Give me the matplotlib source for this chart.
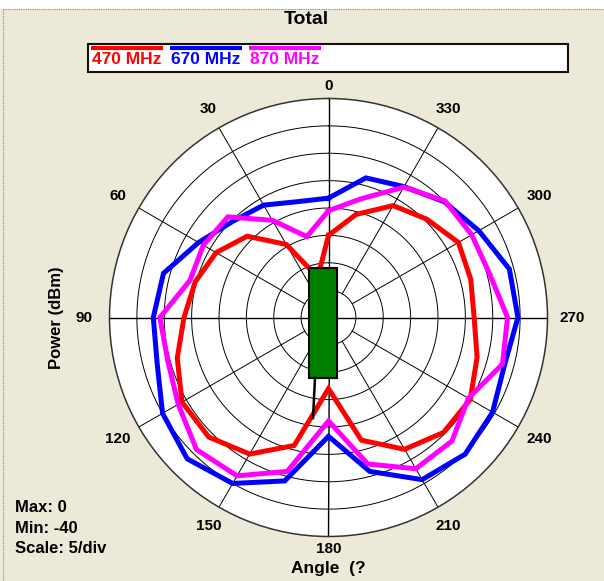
import numpy as np
import matplotlib
matplotlib.use("Agg")
import matplotlib.pyplot as plt
from matplotlib.patches import Rectangle
from matplotlib.lines import Line2D

plt.rcParams['font.family'] = ['Liberation Sans', 'DejaVu Sans']
plt.rcParams['font.weight'] = 'bold'

# measured pattern, every 15 deg (0 = up, counter-clockwise), dBm
angles = np.arange(0, 360, 15)
p470 = [-25.0, -32.4, -24.6, -19.0, -16.3, -14.8, -13.6, -11.4, -9.1, -9.1, -11.2, -15.8,
        -27.0, -16.8, -12.2, -10.3, -10.1, -11.9, -13.4, -13.1, -12.6, -14.6, -16.4, -20.5]
p670 = [-18.2, -18.1, -16.3, -15.2, -12.6, -8.8, -8.0, -7.6, -5.0, -3.5, -5.0, -9.1,
        -18.3, -10.9, -5.8, -4.7, -5.4, -6.7, -5.4, -5.8, -8.3, -10.1, -12.4, -13.6]
p870 = [-20.5, -24.7, -19.5, -14.0, -13.6, -13.8, -9.2, -9.6, -8.3, -5.9, -6.6, -10.9,
        -21.1, -12.3, -8.1, -8.1, -10.5, -7.1, -7.3, -9.5, -9.8, -9.9, -12.5, -17.6]
series = [("470 MHz", p470, "#ff0000"), ("670 MHz", p670, "#0000ff"), ("870 MHz", p870, "#ff00ff")]
angle_labels = list(range(0, 360, 30))
r_min, r_max, r_step = -40, 0, 5

W, H = 604, 581
BG = "#ece9d8"
cx, cy, R = 328.5, 317.5, 219.0   # polar centre / radius in pixels


def fx(x):
    return x / W


def fy(y):
    return 1 - y / H


fig = plt.figure(figsize=(W / 100, H / 100), dpi=100, facecolor=BG)

# white strip on top + dotted frame
fig.patches.append(Rectangle((0, fy(9)), 1, 1 - fy(9), transform=fig.transFigure,
                             facecolor="white", edgecolor="none", zorder=0))
fig.lines.append(Line2D([fx(3), 1], [fy(9), fy(9)], transform=fig.transFigure,
                        color="#888888", lw=0.8, ls=(0, (1, 1))))
fig.lines.append(Line2D([fx(3), fx(3)], [fy(9), 0], transform=fig.transFigure,
                        color="#888888", lw=0.8, ls=(0, (1, 1))))

ax = fig.add_axes([fx(cx - R), fy(cy + R), 2 * R / W, 2 * R / H], projection="polar")
ax.set_theta_zero_location("N")
ax.set_theta_direction(1)
ax.set_ylim(r_min, r_max)
ax.set_facecolor("white")
ax.grid(False)
ax.set_xticks([])
ax.set_yticks([])
ax.spines["polar"].set_color("#333333")
ax.spines["polar"].set_linewidth(1.1)

# rings
full = np.linspace(0, 2 * np.pi, 361)
for r in range(r_min + r_step, r_max, r_step):
    ax.plot(full, np.full_like(full, r), color="black", lw=0.7, zorder=1)

# spokes
for a in angle_labels:
    t = np.radians(a)
    if a % 90 == 0:
        ax.plot([t, t], [r_min, r_max], color="black", lw=1.0, zorder=1)
    else:
        ax.plot([t, t], [r_min + r_step, r_max], color="black", lw=0.7, zorder=1)

# curves
for name, vals, col in series:
    th = np.radians(np.append(angles, angles[0]))
    rr = np.append(vals, vals[0])
    ax.plot(th, rr, color=col, lw=3.6, zorder=3, solid_joinstyle="miter")

# antenna symbol in the middle
ax.add_patch(Rectangle((0.4555, 0.3619), 0.0639, 0.2511, transform=ax.transAxes,
                       facecolor="#007f00", edgecolor="black", lw=1.5, zorder=5, clip_on=False))
ax.plot([0.4692, 0.4646], [0.3619, 0.2705], transform=ax.transAxes, color="black",
        lw=1.8, zorder=5, clip_on=False)

# angle labels
for a in angle_labels:
    t = np.radians(a)
    d = 231 + 13 * np.sqrt(abs(np.sin(t)))
    ax.annotate(str(a), xy=(0, r_min), xytext=(-d * np.sin(t), d * np.cos(t)),
                textcoords="offset pixels", ha="center", va="center",
                fontsize=11, fontweight="bold", annotation_clip=False)

# title / axis names / info
fig.text(fx(306.5), fy(20), "Total", ha="center", va="center", fontsize=14, fontweight="bold")
fig.text(fx(56), fy(318), "Power (dBm)", ha="center", va="center", rotation=90,
         fontsize=12, fontweight="bold")
fig.text(fx(328), fy(569), "Angle  (?", ha="center", va="center", fontsize=12.5, fontweight="bold")
for i, s in enumerate(["Max: %d" % r_max, "Min: %d" % r_min, "Scale: %d/div" % r_step]):
    fig.text(fx(15), fy(507.5 + 20.7 * i), s, ha="left", va="center", fontsize=12, fontweight="bold")

# legend box
fig.patches.append(Rectangle((fx(88), fy(72)), fx(568) - fx(88), fy(44) - fy(72),
                             transform=fig.transFigure, facecolor="white",
                             edgecolor="#111111", lw=1.5, zorder=2))
starts = [91, 170, 249]
for (name, vals, col), x0 in zip(series, starts):
    fig.lines.append(Line2D([fx(x0), fx(x0 + 72)], [fy(48), fy(48)], transform=fig.transFigure,
                            color=col, lw=3.0, solid_capstyle="butt", zorder=3))
    fig.text(fx(x0 + 1), fy(60), name, ha="left", va="center", color=col,
             fontsize=12.5, fontweight="bold", zorder=4)

fig.savefig("out.png", dpi=100, facecolor=BG)
